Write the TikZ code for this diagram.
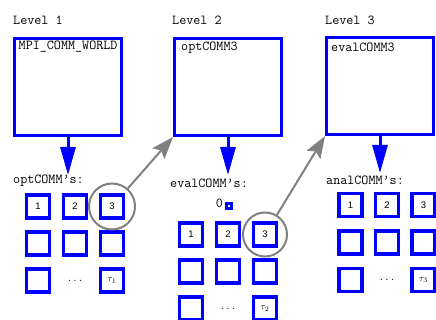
\documentclass[tikz,border=0pt]{standalone}
\usepackage{fontspec}
\setsansfont{Liberation Sans}
\usetikzlibrary{arrows.meta,positioning,calc}
\definecolor{commblue}{HTML}{0000FF}
\definecolor{linkgray}{HTML}{808080}

\begin{document}
\begin{tikzpicture}[x=1pt, y=-1pt,
  levelbox/.style={draw=commblue, line width=3pt, minimum width=107pt, minimum height=97pt, inner sep=0pt},
  cell/.style={draw=commblue, line width=3.5pt, minimum size=23pt, inner sep=0pt, font=\fontsize{9.5}{10}\selectfont\sffamily},
  ring/.style={circle, draw=linkgray, line width=2pt, inner sep=0pt},
  mono/.style={font=\fontsize{13.7}{15}\selectfont\ttfamily, inner sep=0pt, anchor=west},
  dots/.style={font=\fontsize{11}{12}\selectfont\ttfamily, inner sep=0pt},
  dropto/.style={draw=commblue, line width=3pt, -{Triangle[length=28pt,width=15pt]}},
  linkto/.style={draw=linkgray, line width=2pt, -{Stealth[length=22pt,width=16pt,inset=4pt]}}]
  \useasboundingbox (0,0) rectangle (436,320);
  % level boxes
  \node[levelbox] (box1) at (68,87) {};
  \node[levelbox] (box2) at (228,87) {};
  \node[levelbox] (box3) at (380,86) {};
  \node[mono] (lev1) at (13,20) {Level 1};
  \node[mono] (lev2) at (172,20) {Level 2};
  \node[mono] (lev3) at (325,20) {Level 3};
  \node[mono] (name1) at (18.5,47) {MPI\_COMM\_WORLD};
  \node[mono] (name2) at (181,48) {optCOMM3};
  \node[mono] (name3) at (331,47) {evalCOMM3};
  % split arrows
  \coordinate (tip1) at (68,175);
  \coordinate (tip2) at (228,175);
  \coordinate (tip3) at (380,173);
  \draw[dropto] (box1.south) -- (tip1);
  \draw[dropto] (box2.south) -- (tip2);
  \draw[dropto] (box3.south) -- (tip3);
  \node[mono] (sub1) at (13,181) {optCOMM’s:};
  \node[mono] (sub2) at (170,183) {evalCOMM’s:};
  \node[mono] (sub3) at (326,180) {analCOMM’s:};
  % communicator grids
  \foreach \lv/\x/\y/\dx/\dy in {1/38/206.5/37/37, 2/191/234.5/37/37, 3/350.5/205/36.5/37.5}{
    \foreach \r/\c/\txt in {1/1/1, 1/2/2, 1/3/3, 2/1/, 2/2/, 2/3/, 3/1/, 3/3/{$\tau_{\lv}$}}{
      \node[cell] (L\lv-\r-\c) at ({\x+(\c-1)*\dx}, {\y+(\r-1)*\dy}) {\txt};
    }
    \node[dots] (dots\lv) at ({\x+\dx}, {\y+2*\dy}) {...};
  }
  % master process of evalCOMM's
  \node[cell, minimum size=5pt, line width=3pt] (zero) at (228.5,206) {};
  \node[mono, anchor=center] (zerotxt) at (219.5,203) {0};
  % chosen communicators
  \node[ring, minimum size=46pt] (ring1) at (L1-1-3) {};
  \node[ring, minimum size=44pt] (ring2) at (L2-1-3) {};
  \draw[linkto] (ring1) -- (box2.south west);
  \draw[linkto] (ring2) -- (box3.south west);
\end{tikzpicture}
\end{document}
